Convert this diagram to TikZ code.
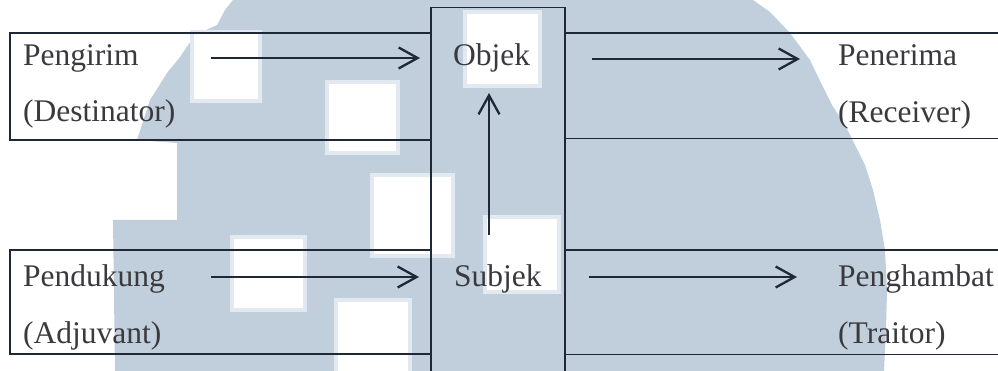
\documentclass[tikz,border=0pt]{standalone}
\usepackage{fontspec}
\setmainfont{Liberation Serif}
\usetikzlibrary{arrows.meta}
\definecolor{wmblue}{RGB}{193,207,220}
\definecolor{wmedge}{RGB}{226,233,240}
\definecolor{rule}{RGB}{30,40,55}
\definecolor{ink}{RGB}{58,58,62}
\begin{document}
\begin{tikzpicture}[x=1pt,y=-1pt,
  lbl/.style={anchor=base west, inner sep=0pt, text=ink, font=\fontsize{31.5}{36}\selectfont},
  tline/.style={draw=rule, line width=1.7pt},
  arr/.style={draw=rule, line width=2.3pt, -{Straight Barb[length=19pt,width=21pt,line width=2.3pt]}},
  hole/.style={fill=white, draw=wmedge, line width=4pt}]
\useasboundingbox (0,0) rectangle (998,371);

% background logo mark
\fill[wmblue] (233,0) -- (753,0) -- (770,12) -- (790,33) -- (810,60) -- (822,85)
  -- (832,105) -- (845,125) -- (855,145) -- (865,165) -- (873,190) -- (880,220)
  -- (885,250) -- (887,290) -- (886,330) -- (884,371) -- (115,371) -- (113,220)
  -- (177,220) -- (177,143) -- (137,140) -- (150,100) -- (167,73) -- (180,57)
  -- (195,35) -- (217,25) -- (225,10) -- cycle;
\path[hole] (192,32) rectangle (260,101);
\path[hole] (327,82) rectangle (398,153);
\path[hole] (372,175) rectangle (453,256);
\path[hole] (465,12) rectangle (540,86);
\path[hole] (485,217) rectangle (559,292);
\path[hole] (232,237) rectangle (305,310);
\path[hole] (336,300) rectangle (410,375);

% table rules
\draw[tline] (431,371) -- (431,7.5) -- (565,7.5) -- (565,371);
\draw[tline] (431,33) -- (10,33) -- (10,140) -- (431,140);
\draw[tline] (565,33) -- (998,33);
\draw[tline] (565,138.5) -- (998,138.5);
\draw[tline] (431,250) -- (10,250) -- (10,354) -- (431,354);
\draw[tline] (565,250) -- (998,250);
\draw[tline] (565,354.5) -- (998,354.5);

% labels
\node[lbl] (pengirim)   at (23,66)   {Pengirim};
\node[lbl] (destinator) at (23,122)  {(Destinator)};
\node[lbl] (objek)      at (453,66)  {Objek};
\node[lbl] (penerima)   at (838,66)  {Penerima};
\node[lbl] (receiver)   at (838,123) {(Receiver)};
\node[lbl] (pendukung)  at (23,287)  {Pendukung};
\node[lbl] (adjuvant)   at (23,343)  {(Adjuvant)};
\node[lbl] (subjek)     at (454,287) {Subjek};
\node[lbl] (penghambat) at (838,287) {Penghambat};
\node[lbl] (traitor)    at (838,343) {(Traitor)};

% arrow end points
\coordinate (a1s) at (211,58);  \coordinate (a1e) at (420,58);
\coordinate (a2s) at (592,59);  \coordinate (a2e) at (800,59);
\coordinate (a3s) at (489,235); \coordinate (a3e) at (489,93);
\coordinate (a4s) at (211,277); \coordinate (a4e) at (419,277);
\coordinate (a5s) at (589,277); \coordinate (a5e) at (797,277);

\draw[arr] (a1s) -- (a1e);
\draw[arr] (a2s) -- (a2e);
\draw[arr] (a3s) -- (a3e);
\draw[arr] (a4s) -- (a4e);
\draw[arr] (a5s) -- (a5e);
\end{tikzpicture}
\end{document}
